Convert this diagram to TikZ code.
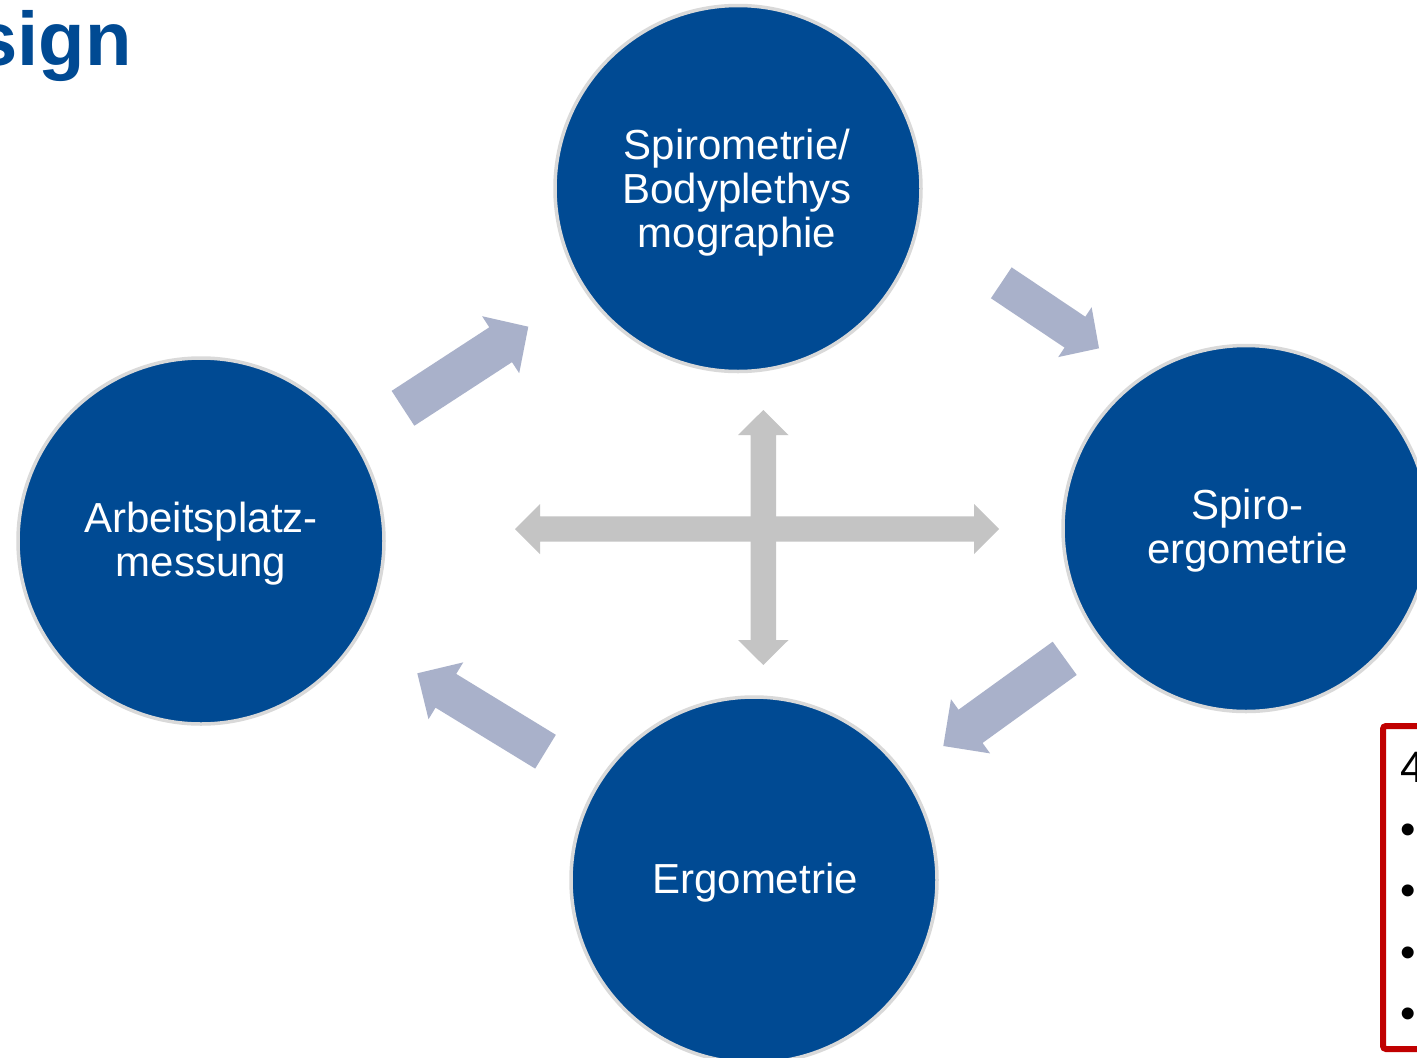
\documentclass[tikz,border=0pt]{standalone}
\usepackage{fontspec}
\setmainfont{Liberation Sans}
\usetikzlibrary{calc}
\definecolor{circblue}{RGB}{0,74,147}
\definecolor{ringgray}{RGB}{217,217,217}
\definecolor{arrowblue}{RGB}{169,177,202}
\definecolor{crossgray}{RGB}{196,196,196}
\definecolor{boxred}{RGB}{192,0,0}
\tikzset{
  stage/.style={circle, fill=circblue, draw=ringgray, line width=3.5pt, minimum size=366pt, inner sep=0pt},
  stagetext/.style={text=white, align=center, font=\fontsize{42}{44}\selectfont, inner sep=0pt, anchor=base},
  cyclearrow/.style={fill=arrowblue},
  crossarrow/.style={fill=crossgray},
  boxtext/.style={anchor=base west, inner sep=0pt, font=\fontsize{44}{50}\selectfont, text=black},
}
% #1 tail, #2 tip, #3 shaft half width, #4 head half width, #5 head length
\newcommand\fatarrow[5]{%
  \coordinate (#1b) at ($(#2)!#5!(#1)$);
  \fill[cyclearrow] ($(#1)!#3!90:(#2)$) -- ($(#1b)!#3!-90:(#1)$) -- ($(#1b)!#4!-90:(#1)$) -- (#2)
    -- ($(#1b)!#4!90:(#1)$) -- ($(#1b)!#3!90:(#1)$) -- ($(#1)!#3!-90:(#2)$) -- cycle;
}
\begin{document}
\begin{tikzpicture}[x=1pt,y=-1pt]
\useasboundingbox (0,0) rectangle (1417,1058);
\fill[white] (0,0) rectangle (1417,1058);
\clip (0,0) rectangle (1417,1058);

% title
\node[anchor=base west, inner sep=0pt, font=\fontsize{76}{80}\selectfont\bfseries, text=circblue] (title) at (-25,65) {sign};

% circles
\node[stage] (spiro) at (738,188.5) {};
\node[stage] (arbeit) at (201,541) {};
\node[stage] (spiroerg) at (1246,528.5) {};
\node[stage] (ergo) at (754,880) {};

% labels (base = baseline of the last line)
\node[stagetext] (spirot) at (737,247) {Spirometrie/\\Bodyplethys\\mographie};
\node[stagetext] (arbeitt) at (201,576) {Arbeitsplatz-\\messung};
\node[stagetext] (spiroergt) at (1247.5,563) {Spiro-\\ergometrie};
\node[stagetext] (ergot) at (755,893) {Ergometrie};

% cycle arrows
\coordinate (t1) at (403,408.3);   \coordinate (h1) at (528.3,326.7);
\coordinate (t2) at (1001.3,282.8); \coordinate (h2) at (1099,348.3);
\coordinate (t3) at (1064.7,658.3); \coordinate (h3) at (943.3,746);
\coordinate (t4) at (545.5,751.7);  \coordinate (h4) at (417.3,673.3);
\fatarrow{t1}{h1}{20.8pt}{34pt}{33pt}
\fatarrow{t2}{h2}{18.6pt}{30pt}{29pt}
\fatarrow{t3}{h3}{20.5pt}{33.4pt}{33.6pt}
\fatarrow{t4}{h4}{19.8pt}{33.3pt}{33.5pt}

% cross arrows
\coordinate (cW) at (515,529); \coordinate (cE) at (999,529);
\coordinate (cN) at (763.3,410); \coordinate (cS) at (763.3,665);
\fill[crossarrow] (cW) -- (540,504) -- (540,516.3) -- (974,516.3) -- (974,504) -- (cE)
  -- (974,554) -- (974,541.7) -- (540,541.7) -- (540,554) -- cycle;
\fill[crossarrow] (cN) -- (788.5,435) -- (776,435) -- (776,640) -- (788.5,640) -- (cS)
  -- (738,640) -- (750.6,640) -- (750.6,435) -- (738,435) -- cycle;

% red box
\draw[boxred, line width=6pt, rounded corners=3pt] (1383,726) rectangle (1460,1049);
\node[boxtext] (b0) at (1400.6,782) {4};
\node[boxtext] (b1) at (1400.6,844) {•};
\node[boxtext] (b2) at (1400.6,905.5) {•};
\node[boxtext] (b3) at (1400.6,967) {•};
\node[boxtext] (b4) at (1400.6,1028) {•};
\end{tikzpicture}
\end{document}
